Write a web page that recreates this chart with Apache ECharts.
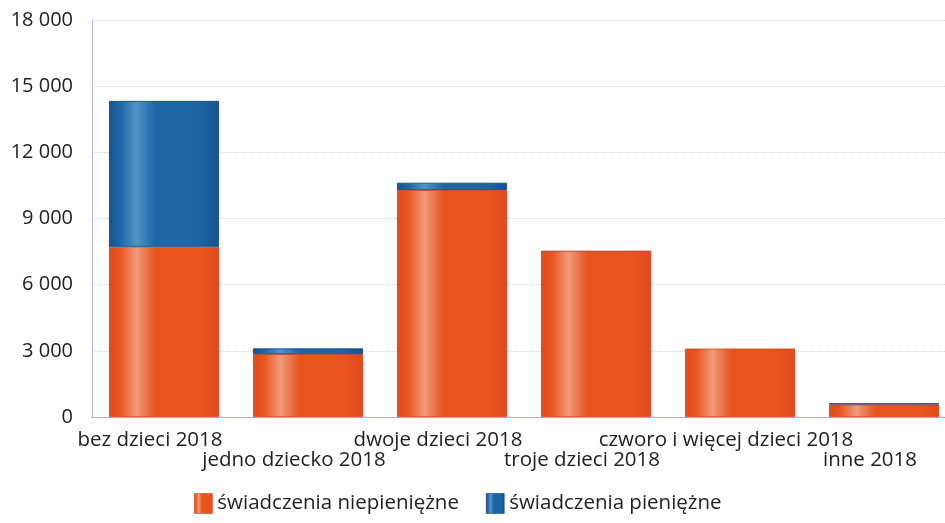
<!DOCTYPE html>
<html>
<head>
<meta charset="utf-8">
<script src="https://cdn.jsdelivr.net/npm/echarts@6/dist/echarts.min.js"></script>
<style>html,body{margin:0;padding:0;background:#fff;overflow:hidden;}#c{width:956px;height:523px;}</style>
</head>
<body>
<div id="c"></div>
<script>
var categories = ['bez dzieci 2018','jedno dziecko 2018','dwoje dzieci 2018','troje dzieci 2018','czworo i więcej dzieci 2018','inne 2018'];
var seriesNames = ['świadczenia niepieniężne','świadczenia pieniężne'];
var niepieniezne = [7720, 2850, 10290, 7540, 3100, 570];
var pieniezne = [6610, 260, 330, null, null, 50];
var yTicks = [0, 3000, 6000, 9000, 12000, 15000, 18000];

var FONT = '"Open Sans", "Noto Sans", sans-serif';
function grad(base, light, dark){
  return new echarts.graphic.LinearGradient(0,0,1,0,[
    {offset:0, color:dark},
    {offset:0.1, color:base},
    {offset:0.25, color:light},
    {offset:0.42, color:base},
    {offset:0.8, color:base},
    {offset:1, color:dark}
  ]);
}
var orangeFill = grad('#e8561e','#f09a7c','#e04c1a');
var blueFill = grad('#1d66a6','#4f93c8','#18528f');

var chart = echarts.init(document.getElementById('c'), null, {renderer:'canvas'});
chart.setOption({
  animation:false,
  backgroundColor:'#ffffff',
  textStyle:{fontFamily:FONT},
  grid:{left:92, right:0, top:20, bottom:106, containLabel:false},
  legend:{
    left:189, bottom:4,
    itemWidth:18, itemHeight:20, itemGap:27,
    textStyle:{fontFamily:FONT, fontSize:20.5, color:'#222'},
    data:[
      {name:seriesNames[0], icon:'rect', itemStyle:{color:orangeFill, borderColor:'#d63a1a', borderWidth:0.6}},
      {name:seriesNames[1], icon:'rect', itemStyle:{color:blueFill, borderColor:'#123f7a', borderWidth:0.6}}
    ]
  },
  xAxis:{
    type:'category',
    data:categories,
    axisLine:{show:true, lineStyle:{color:'#9aa0c0', type:'dotted', width:1}},
    axisTick:{show:false},
    axisLabel:{
      interval:0,
      margin:13,
      fontFamily:FONT, fontSize:20.5, color:'#222', lineHeight:20,
      padding:[0,28,0,0],
      formatter:function(v, i){ return (i % 2 === 1) ? '\n' + v : v; }
    },
    splitLine:{show:false}
  },
  yAxis:{
    type:'value',
    min:yTicks[0], max:yTicks[yTicks.length-1], interval:3000,
    axisLine:{show:true, lineStyle:{color:'#a8acc8', type:'dotted', width:1}},
    axisTick:{show:false},
    axisLabel:{
      margin:19, fontFamily:FONT, fontSize:20, color:'#222',
      formatter:function(v){ return String(v).replace(/\B(?=(\d{3})+(?!\d))/g, ' '); }
    },
    splitLine:{show:true, lineStyle:{color:'#d8d8de', type:'dotted', width:1}}
  },
  series:[
    {
      name:seriesNames[0], type:'bar', stack:'s', barWidth:110,
      data:niepieniezne,
      itemStyle:{color:orangeFill, borderColor:'#d63a1a', borderWidth:0.8}
    },
    {
      name:seriesNames[1], type:'bar', stack:'s', barWidth:110,
      data:pieniezne,
      itemStyle:{color:blueFill, borderColor:'#123f7a', borderWidth:0.8}
    }
  ]
});
</script>
</body>
</html>
